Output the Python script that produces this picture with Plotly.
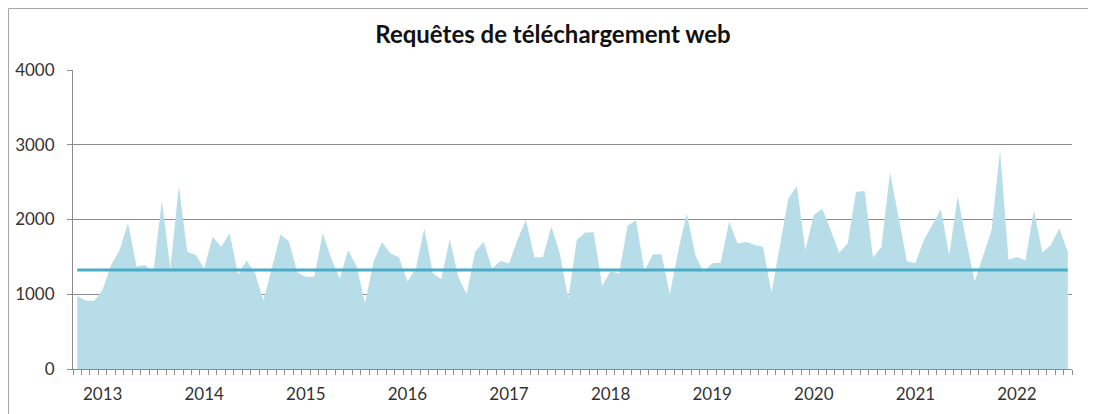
import pandas as pd
import plotly.graph_objects as go

# Monthly web download requests, Oct 2012 .. Jul 2022
START_MONTH = "2012-10-01"
REQUESTS = [
    975, 915, 910,
    1060, 1390, 1590, 1955, 1370, 1390, 1300, 2250, 1345, 2445, 1570, 1525,
    1345, 1770, 1635, 1815, 1260, 1450, 1280, 915, 1350, 1800, 1705, 1290,
    1235, 1235, 1815, 1480, 1210, 1590, 1370, 880, 1435, 1700, 1545, 1495,
    1170, 1345, 1880, 1280, 1200, 1740, 1235, 1005, 1570, 1700, 1345, 1445,
    1415, 1725, 1995, 1495, 1495, 1905, 1545, 935, 1725, 1825, 1830, 1110,
    1310, 1275, 1915, 1990, 1310, 1535, 1535, 1000, 1590, 2080, 1525, 1295,
    1415, 1420, 1970, 1680, 1700, 1660, 1635, 1020, 1650, 2280, 2445, 1590,
    2060, 2145, 1860, 1555, 1680, 2370, 2380, 1490, 1636, 2630, 2040, 1440,
    1415, 1725, 1925, 2135, 1525, 2310, 1720, 1170, 1515, 1860, 2920, 1465,
    1500, 1450, 2125, 1555, 1660, 1880, 1570,
]
AVERAGE = 1325
Y_TICKS = [0, 1000, 2000, 3000, 4000]
TITLE = "Requêtes de téléchargement web"

months = pd.date_range(START_MONTH, periods=len(REQUESTS), freq="MS")
idx = list(range(len(REQUESTS)))
year_pos = [i for i, d in enumerate(months) if d.month == 1]
year_txt = [str(months[i].year) for i in year_pos]

FONT = "Lato, 'Open Sans', sans-serif"
GRID = "#8C8C8C"
W, H = 1088, 406          # page body has an 8px margin
L, R, T, B = 65, 24, 62, 45
PW, PH = W - L - R, H - T - B

fig = go.Figure()
fig.add_trace(go.Scatter(
    x=idx, y=REQUESTS, mode="lines", fill="tozeroy",
    line=dict(width=0, color="#B7DDE8"), fillcolor="#B7DDE8",
    hoverinfo="x+y", showlegend=False,
))
fig.add_trace(go.Scatter(
    x=[idx[0], idx[-1]], y=[AVERAGE, AVERAGE], mode="lines",
    line=dict(width=3, color="#4AACC6"), showlegend=False,
))

fig.update_layout(
    width=W, height=H,
    margin=dict(l=L, r=R, t=T, b=B, autoexpand=False),
    paper_bgcolor="white", plot_bgcolor="white",
    font=dict(family=FONT, size=17, color="#333333"),
    title=dict(text="<b>" + TITLE + "</b>", x=545 / W, xref="container",
               xanchor="center", y=1 - 27 / H, yanchor="middle",
               font=dict(family=FONT, size=24, color="#111111")),
    xaxis=dict(
        range=[-0.5, len(REQUESTS) - 0.5], automargin=False,
        tickmode="array", tickvals=year_pos, ticktext=year_txt,
        ticks="", showgrid=False, zeroline=False,
        showline=True, linecolor=GRID, linewidth=1,
        ticklabelstandoff=10,
        minor=dict(tickmode="array",
                   tickvals=[k - 0.5 for k in range(len(REQUESTS) + 1)],
                   ticks="outside", ticklen=5, tickcolor=GRID, tickwidth=1,
                   showgrid=False),
        fixedrange=True,
    ),
    yaxis=dict(
        range=[0, 4000], tickmode="array", tickvals=Y_TICKS, automargin=False,
        ticks="outside", ticklen=5, tickcolor=GRID,
        showgrid=True, gridcolor=GRID, gridwidth=1,
        zeroline=False, showline=True, linecolor=GRID, linewidth=1,
        ticklabelstandoff=9,
        fixedrange=True,
    ),
    shapes=[
        dict(type="line", xref="paper", yref="paper",
             x0=(0.5 - L) / PW, x1=(W - L) / PW,
             y0=(H - B - 0.5) / PH, y1=(H - B - 0.5) / PH,
             line=dict(color="#A6A6A6", width=1)),
        dict(type="line", xref="paper", yref="paper",
             x0=(0.5 - L) / PW, x1=(0.5 - L) / PW,
             y0=(H - B - 0.5) / PH, y1=-B / PH,
             line=dict(color="#A6A6A6", width=1)),
    ],
)

fig.write_html("out.html")
